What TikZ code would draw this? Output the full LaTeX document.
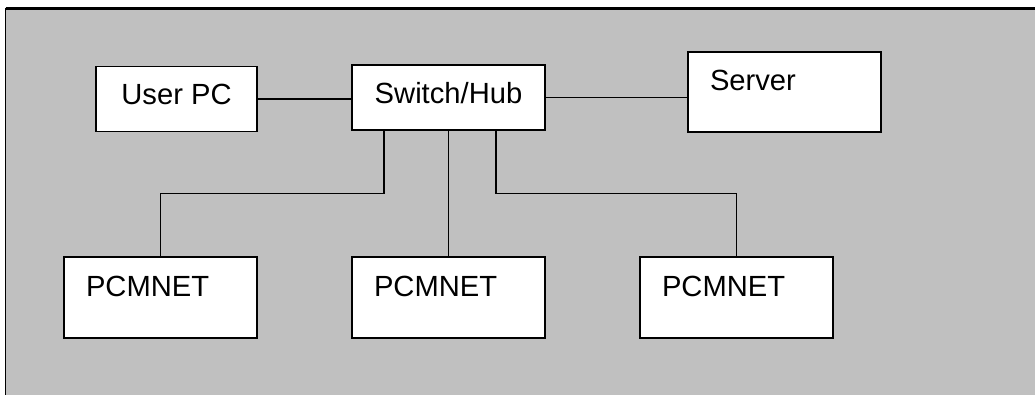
\documentclass[tikz,border=0pt]{standalone}
\usepackage{fontspec}
\setmainfont{Liberation Sans}
\usetikzlibrary{positioning, calc}
\definecolor{panelgray}{RGB}{192,192,192}
\tikzset{
  devbox/.style={draw, fill=white, line width=0.9pt, font=\fontsize{16.6}{20}\selectfont},
  midbox/.style={devbox, minimum width=#1, minimum height=1.30cm, inner sep=0pt,
    text height=11.9pt, text depth=5.6pt},
  cornerbox/.style={devbox, align=left, text width=2.98cm, inner xsep=0.44cm,
    inner ysep=0pt, text height=0.78cm, text depth=#1},
  wire/.style={line width=0.75pt}
}

\begin{document}
\begin{tikzpicture}
  \useasboundingbox (0,0) rectangle (20.7,7.88);
  % gray panel, cut off at the right and bottom
  \fill[panelgray] (0.11,-0.2) rectangle (20.9,7.71);
  \draw[line width=1.2pt] (0.11,7.71) -- (20.9,7.71);
  \draw[line width=0.7pt] (0.11,-0.2) -- (0.11,7.71);

  \node[midbox=3.22cm] (user) at (3.53,5.90) {User PC};
  \node[midbox=3.86cm] (sw) at (8.97,5.93) {Switch/Hub};
  \node[cornerbox=0.82cm] (srv) at (15.69,6.04) {Server};
  \foreach \n/\x in {1/3.21, 2/8.97, 3/14.73}
    \node[cornerbox=0.84cm] (pc\n) at (\x,1.93) {PCMNET};

  \draw[wire] (user.east) -- (user.east -| sw.west);
  \draw[wire] (sw.east) -- (sw.east -| srv.west);
  % drops from the switch down to each PCMNET
  \foreach \n/\dx in {1/-1.29, 2/0, 3/0.95}
    \draw[wire] ([xshift=\dx cm]sw.south) -- ++(0,-1.26) -| (pc\n.north);
\end{tikzpicture}
\end{document}
